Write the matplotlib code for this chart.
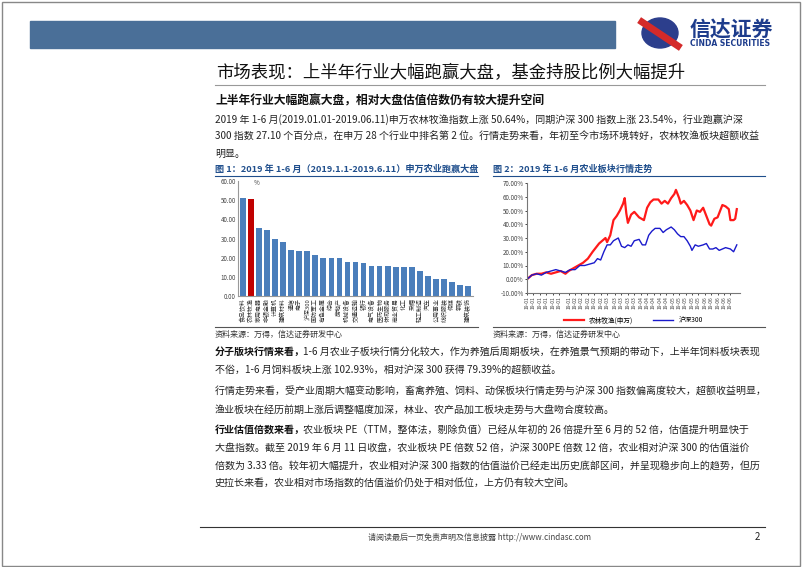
import numpy as np
import matplotlib.pyplot as plt
from matplotlib.patches import Rectangle, Ellipse

plt.rcParams['font.family'] = ['Noto Sans CJK SC', 'DejaVu Sans']

W, H = 802, 567

# ---- chart 1 data ----
industries = ['食品饮料', '农林牧渔', '家用电器', '非银金融', '计算机', '建筑材料', '通信', '电子',
              '沪深300', '国防军工', '有色金属', '综合', '房地产', '机械设备', '交通运输', '银行',
              '电气设备', '医药生物', '休闲服务', '商业贸易', '化工', '采掘', '轻工制造', '汽车',
              '公用事业', '纺织服装', '传媒', '钢铁', '建筑装饰']
gains = [51.2, 50.6, 35.5, 34.4, 29.9, 28.1, 24.0, 23.4, 23.5, 21.6, 20.0, 19.8, 19.8, 17.9,
         17.7, 17.4, 15.7, 15.5, 15.5, 15.3, 15.0, 14.9, 13.0, 10.5, 9.1, 8.8, 7.4, 6.0, 5.3]

# ---- chart 2 data (trading-day index, % change) ----
red_x = [0, 3, 6, 9, 12, 15, 18, 21, 24, 26, 29, 32, 35, 38, 41, 43, 45, 47, 49, 50, 52, 54, 56,
         58, 60, 61, 62, 63, 65, 67, 70, 73, 75, 77, 79, 82, 84, 86, 88, 90, 92, 93, 95, 96, 98,
         100, 102, 104, 106, 108, 110, 112, 114, 115, 117, 119, 122, 124, 126, 127, 129, 130, 131]
red_y = [0, 3, 4, 4, 5, 4, 5, 6, 4, 6, 8, 10, 12, 15, 20, 23, 26, 28, 30, 27, 32, 43, 46,
         50, 55, 59, 48, 41, 47, 49, 45, 43, 52, 56, 58, 58, 55, 57, 55, 59, 62, 65, 59, 55, 57,
         54, 50, 43, 50, 49, 52, 46, 40, 39, 44, 45, 54, 53, 51, 43, 43, 44, 51]
blue_x = [0, 3, 6, 9, 12, 15, 18, 21, 24, 27, 30, 33, 36, 39, 42, 44, 46, 48, 50, 52, 54, 57,
          59, 61, 63, 65, 67, 70, 72, 74, 76, 78, 80, 83, 85, 87, 90, 92, 94, 96, 98, 100, 102,
          103, 105, 107, 110, 112, 114, 116, 118, 120, 122, 124, 127, 129, 131]
blue_y = [0, 3, 4, 3, 5, 6, 7, 6, 5, 7, 7, 10, 10, 11, 12, 15, 14, 20, 25, 25, 28, 30,
          24, 23, 25, 24, 28, 29, 25, 25, 32, 35, 37, 37, 34, 36, 38, 36, 33, 31, 31, 28, 24,
          21, 25, 24, 25, 26, 22, 22, 23, 21, 22, 23, 22, 20, 25]
month_ticks = [0, 4, 8, 12, 16, 20, 26, 30, 34, 38, 42, 46, 50, 55, 59, 63, 67, 71, 75, 79, 83,
               87, 91, 95, 99, 103, 107, 111, 115, 119, 123, 127]
month_labels = (['19-01'] * 7 + ['19-02'] * 5 + ['19-03'] * 5 + ['19-04'] * 5 +
                ['19-05'] * 5 + ['19-06'] * 5)

fig = plt.figure(figsize=(W / 100, H / 100), dpi=100)
fig.patch.set_facecolor('white')


def px(x, y):
    return x / W, 1 - y / H


def txt(x, y, s, **kw):
    fx, fy = px(x, y)
    fig.text(fx, fy, s, va='center', **kw)


def hline(x0, x1, y, color, lw):
    fig.add_artist(plt.Line2D([x0 / W, x1 / W], [1 - y / H] * 2, color=color, lw=lw))


# page border + header
fig.add_artist(Rectangle((0.002, 0.002), 0.996, 0.995, fill=False, ec='#888', lw=1))
fig.add_artist(Rectangle(px(30, 48), 585 / W, 27 / H, color='#4a6f98'))
fig.add_artist(Ellipse(px(660, 33), 36 / W, 30 / H, color='#2c3e8c'))
fig.add_artist(plt.Line2D([642 / W, 678 / W], [1 - 22 / H, 1 - 46 / H], color='#d42a2a', lw=5))
txt(690, 30, '信达证券', fontsize=15, color='#1d3c8c', fontweight='bold')
txt(690, 44, 'CINDA SECURITIES', fontsize=5.5, color='#1d3c8c', fontweight='bold',
    family='DejaVu Sans')

txt(216, 73, '市场表现：上半年行业大幅跑赢大盘，基金持股比例大幅提升', fontsize=12.5, color='#111')
hline(215, 765, 85, '#999', 0.8)
txt(216, 101, '上半年行业大幅跑赢大盘，相对大盘估值倍数仍有较大提升空间', fontsize=8.5,
    fontweight='bold', color='#111')
para1 = ['2019 年 1-6 月(2019.01.01-2019.06.11)申万农林牧渔指数上涨 50.64%，同期沪深 300 指数上涨 23.54%，行业跑赢沪深',
         '300 指数 27.10 个百分点，在申万 28 个行业中排名第 2 位。行情走势来看，年初至今市场环境转好，农林牧渔板块超额收益',
         '明显。']
for i, s in enumerate(para1):
    txt(215, 120 + i * 17, s, fontsize=7.2, color='#222')

# figure titles
txt(215, 169, '图 1：2019 年 1-6 月（2019.1.1-2019.6.11）申万农业跑赢大盘', fontsize=6.6,
    fontweight='bold', color='#1f4e8c')
txt(493, 169, '图 2：2019 年 1-6 月农业板块行情走势', fontsize=6.6, fontweight='bold', color='#1f4e8c')
hline(215, 478, 176, '#1f4e8c', 0.8)
hline(493, 765, 176, '#1f4e8c', 0.8)

# bar chart
ax1 = fig.add_axes([238 / W, 1 - 296 / H, 235 / W, 115 / H])
colors = ['#c00000' if n == '农林牧渔' else '#4a7ebb' for n in industries]
ax1.bar(range(len(gains)), gains, color=colors, width=0.7)
ax1.set_ylim(0, 60)
ax1.set_xlim(-0.6, len(gains) - 0.4)
ax1.set_yticks(np.arange(0, 61, 10))
ax1.set_yticklabels([f'{v:.2f}' for v in np.arange(0, 61, 10)], fontsize=4.5, color='#444')
ax1.set_xticks(range(len(gains)))
ax1.set_xticklabels(industries, rotation=90, fontsize=4.3, color='#333')
ax1.tick_params(length=0, pad=1.5)
for s in ['top', 'right']:
    ax1.spines[s].set_visible(False)
ax1.spines['left'].set_color('#999')
ax1.spines['bottom'].set_color('#999')
ax1.text(1.3, 58, '%', fontsize=4.5, color='#444')
hline(215, 478, 327, '#555', 0.8)
txt(215, 334, '资料来源：万得，信达证券研发中心', fontsize=5.8, style='italic', color='#333')

# line chart
ax2 = fig.add_axes([527 / W, 1 - 293 / H, 213 / W, 110 / H])
ax2.plot(red_x, red_y, color='#ff1a1a', lw=1.6, label='农林牧渔(申万)')
ax2.plot(blue_x, blue_y, color='#1a1acc', lw=1.0, label='沪深300')
ax2.set_ylim(-10, 70)
ax2.set_xlim(0, 133)
ax2.set_yticks(np.arange(-10, 71, 10))
ax2.set_yticklabels([f'{v:.2f}%' for v in np.arange(-10, 71, 10)], fontsize=4.5, color='#444')
ax2.set_xticks(month_ticks)
ax2.set_xticklabels(month_labels, rotation=90, fontsize=3.6, color='#444')
ax2.tick_params(length=1.5, pad=1, width=0.5)
for s in ['top', 'right']:
    ax2.spines[s].set_visible(False)
ax2.spines['left'].set_color('#777')
ax2.spines['bottom'].set_color('#777')
ax2.legend(loc='center', bbox_to_anchor=(0.5, -0.25), ncol=2, frameon=False,
           fontsize=4.8, handlelength=3, columnspacing=3)
hline(493, 765, 327, '#555', 0.8)
txt(493, 334, '资料来源：万得，信达证券研发中心', fontsize=5.8, style='italic', color='#333')

# body paragraphs
paras = [
    (352, '分子版块行情来看，', '1-6 月农业子板块行情分化较大，作为养殖后周期板块，在养殖景气预期的带动下，上半年饲料板块表现',
     ['不俗，1-6 月饲料板块上涨 102.93%，相对沪深 300 获得 79.39%的超额收益。']),
    (392, '', '行情走势来看，受产业周期大幅变动影响，畜禽养殖、饲料、动保板块行情走势与沪深 300 指数偏离度较大，超额收益明显，',
     ['渔业板块在经历前期上涨后调整幅度加深，林业、农产品加工板块走势与大盘吻合度较高。']),
    (430, '行业估值倍数来看，', '农业板块 PE（TTM，整体法，剔除负值）已经从年初的 26 倍提升至 6 月的 52 倍，估值提升明显快于',
     ['大盘指数。截至 2019 年 6 月 11 日收盘，农业板块 PE 倍数 52 倍，沪深 300PE 倍数 12 倍，农业相对沪深 300 的估值溢价',
      '倍数为 3.33 倍。较年初大幅提升，农业相对沪深 300 指数的估值溢价已经走出历史底部区间，并呈现稳步向上的趋势，但历',
      '史拉长来看，农业相对市场指数的估值溢价仍处于相对低位，上方仍有较大空间。']),
]
for y0, head, first, rest in paras:
    if head:
        txt(215, y0, head, fontsize=7.2, fontweight='bold', color='#111')
        txt(215 + 88, y0, first, fontsize=7.2, color='#222')
    else:
        txt(215, y0, first, fontsize=7.2, color='#222')
    for i, s in enumerate(rest):
        txt(215, y0 + 18 * (i + 1), s, fontsize=7.2, color='#222')

# footer
hline(200, 765, 527, '#333', 0.8)
txt(480, 537, '请阅读最后一页免责声明及信息披露 http://www.cindasc.com', fontsize=5.8, color='#444',
    ha='center')
txt(755, 537, '2', fontsize=7, color='#222')

fig.savefig('out.png', dpi=100)
